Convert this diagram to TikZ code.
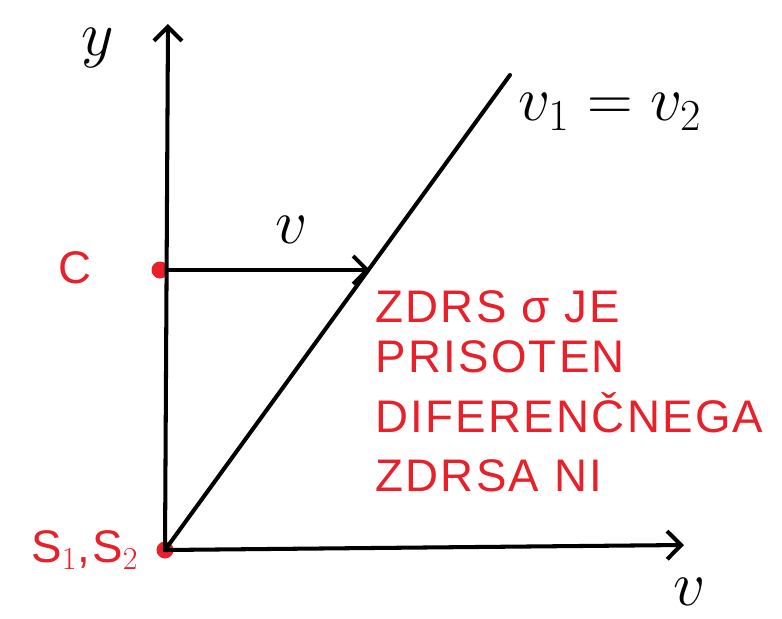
\RequirePackage{fix-cm}
\documentclass[tikz,border=0pt]{standalone}
\usepackage{fontspec}
\usepackage{xcolor}
\newfontfamily\handfont[LetterSpace=5]{Liberation Sans}
\definecolor{penred}{HTML}{E8202A}
\usetikzlibrary{arrows.meta,positioning}

\begin{document}
\begin{tikzpicture}[
    x=0.02cm, y=-0.02cm,
    dot/.style={circle, fill=penred, inner sep=0pt, minimum size=0.34cm},
    axis/.style={-{Straight Barb[length=8pt,width=16pt]}, line width=2.3pt, line cap=round},
    note/.style={text=penred, anchor=west, inner sep=0pt, font=\handfont\fontsize{26}{28}\selectfont},
    lbl/.style={inner sep=0pt, font=\fontsize{36}{38}\selectfont}
]
    \useasboundingbox (0,0) rectangle (782,619);

    % points
    \node[dot] (origin) at (165,550) {};
    \node[dot] (cpoint) at (160,270) {};
    \coordinate (ytop) at (168,24);
    \coordinate (xend) at (684,545);
    \coordinate (linetop) at (510,75);
    \coordinate (hit) at (370,270);

    % axes
    \draw[axis] (origin.center) -- (ytop);
    \draw[axis] (origin.center) -- (xend);

    % v1 = v2 line and the arrow
    \draw[line width=2.3pt, line cap=round] (origin.center) -- (linetop);
    \draw[axis] (cpoint) -- (hit);

    % labels
    \node[lbl] (ylabel) at (98,48) {$y$};
    \node[lbl] (vaxis) at (690,592) {$v$};
    \node[lbl] (varrow) at (292,230) {$v$};
    \node[lbl, anchor=west] (eqlabel) at (518,112) {$v_1 = v_2$};
    \node[note, anchor=center] (clabel) at (75,268) {C};
    \node[note, anchor=center] (slabel) at (85,550) {S$_1$,S$_2$};

    % red note
    \node[note] (line1) at (375,307) {ZDRS σ JE};
    \node[note] (line2) at (375,357) {PRISOTEN};
    \node[note] (line3) at (375,413) {DIFERENČNEGA};
    \node[note] (line4) at (375,476) {ZDRSA NI};
\end{tikzpicture}
\end{document}
